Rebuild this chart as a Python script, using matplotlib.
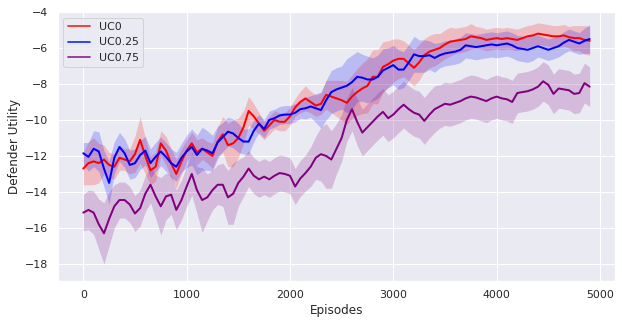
import numpy as np
import matplotlib
matplotlib.use("Agg")
import matplotlib.pyplot as plt
import seaborn as sns

episodes = np.arange(0, 4901, 50)

uc0_mean = [
    -12.7, -12.4, -12.3, -12.4, -12.2, -12.5, -12.6, -12.1, -12.2, -12.3,
    -11.9, -11.1, -12.0, -12.8, -12.6, -11.3, -11.7, -12.4, -13.0, -12.3,
    -11.7, -11.3, -11.8, -11.6, -11.8, -12.0, -11.2, -10.8, -11.4, -11.3,
    -11.0, -10.4, -9.5, -9.8, -10.2, -10.6, -10.3, -10.0, -10.1, -10.1,
    -9.8, -9.3, -9.0, -8.8, -9.0, -9.2, -9.1, -8.6, -8.7, -8.8,
    -8.9, -9.05, -8.7, -8.45, -8.25, -8.1, -7.6, -7.6, -7.05, -6.9,
    -6.7, -6.6, -6.6, -6.85, -7.1, -6.8, -6.4, -6.2, -6.1, -6.0,
    -5.8, -5.65, -5.6, -5.55, -5.5, -5.35, -5.4, -5.45, -5.55, -5.5,
    -5.45, -5.5, -5.45, -5.5, -5.55, -5.45, -5.35, -5.3, -5.2, -5.25,
    -5.3, -5.35, -5.35, -5.3, -5.4, -5.45, -5.45, -5.55, -5.6,
]
uc025_mean = [
    -11.85, -12.05, -11.6, -11.75, -12.7, -13.5, -12.1, -11.5, -11.85, -12.5,
    -12.4, -11.95, -11.7, -12.4, -12.05, -11.75, -12.05, -12.4, -12.6, -12.1,
    -11.75, -11.5, -11.95, -11.6, -11.7, -11.85, -11.25, -10.95, -10.65, -10.75,
    -11.0, -11.2, -11.2, -10.6, -10.2, -10.5, -10.0, -9.9, -9.75, -9.7,
    -9.7, -9.6, -9.4, -9.35, -9.25, -9.35, -9.45, -8.9, -8.45, -8.3,
    -8.2, -8.1, -7.9, -7.6, -7.65, -7.75, -7.75, -7.6, -7.25, -7.1,
    -6.95, -7.2, -7.2, -6.8, -6.35, -6.45, -6.45, -6.4, -6.55, -6.4,
    -6.3, -6.25, -6.2, -6.1, -5.85, -5.9, -5.95, -5.9, -5.85, -5.8,
    -5.85, -5.8, -5.75, -5.85, -6.0, -6.05, -6.1, -6.0, -5.9, -6.0,
    -6.1, -6.0, -5.9, -5.7, -5.55, -5.65, -5.75, -5.6, -5.5,
]
uc075_mean = [
    -15.15, -15.0, -15.15, -15.8, -16.3, -15.5, -14.8, -14.45, -14.45, -14.7,
    -15.2, -14.9, -14.1, -13.6, -14.25, -14.8, -14.25, -14.15, -15.0, -14.45,
    -13.7, -13.0, -13.9, -14.45, -14.3, -13.9, -13.6, -13.6, -14.3, -14.1,
    -13.5, -13.15, -12.7, -13.1, -13.3, -13.15, -13.3, -13.1, -12.95, -13.0,
    -13.1, -13.7, -13.25, -12.95, -12.6, -12.1, -11.9, -12.0, -12.2, -11.6,
    -11.0, -10.0, -9.4, -10.1, -10.7, -10.4, -10.1, -9.8, -9.55, -9.9,
    -9.7, -9.4, -9.15, -9.4, -9.6, -9.7, -10.05, -9.7, -9.4, -9.25,
    -9.1, -9.15, -9.05, -8.95, -8.8, -8.7, -8.75, -8.85, -8.95, -8.8,
    -8.7, -8.8, -8.85, -9.0, -8.5, -8.45, -8.4, -8.3, -8.15, -7.85,
    -8.05, -8.55, -8.25, -8.3, -8.35, -8.55, -8.5, -7.95, -8.15,
]

uc0_spread = [
    0.9, 1.2, 1.3, 1.1,
    0.8, 0.7, 0.7, 0.7, 0.6, 0.7,
    1.0, 1.3, 1.0, 0.8,
    0.8, 0.7, 0.8, 0.8, 0.8, 0.7,
    0.6, 0.6, 0.7, 0.6, 0.6, 0.7,
    0.8, 1.0, 1.2, 1.3, 1.1, 0.9,
    0.8, 0.7, 0.6, 0.5, 0.5, 0.5, 0.5, 0.5,
    0.5, 0.5, 0.6, 0.7, 0.6, 0.6,
    0.6, 0.8, 0.9, 1.0, 1.1, 1.2,
    1.2, 1.3, 1.4, 1.5, 1.5, 1.5,
    1.4, 1.3, 1.2, 1.1, 1.0, 1.0,
    1.0, 1.0, 0.9, 0.9, 0.9, 0.8,
    0.8, 0.8, 0.7, 0.7, 0.7, 0.7,
    0.6, 0.6, 0.6, 0.6, 0.6, 0.6,
    0.6, 0.6, 0.6, 0.6, 0.6, 0.6,
    0.6, 0.6, 0.6, 0.6, 0.6, 0.6,
    0.6, 0.7, 0.7, 0.8, 0.8,
]
uc025_spread = [
    0.6, 0.8, 1.0, 1.1,
    1.0, 1.2, 0.9, 0.8, 0.8, 0.8,
    0.8, 0.8, 0.8, 0.8,
    0.8, 0.8, 0.8, 0.8, 0.8, 0.8,
    0.9, 1.0, 1.1, 1.2, 1.1, 1.0,
    0.9, 0.8, 0.8, 0.8, 0.8, 0.7,
    0.7, 0.6, 0.5, 0.5, 0.5, 0.5, 0.5, 0.5,
    0.5, 0.5, 0.5, 0.6, 0.6, 0.8,
    1.0, 1.1, 1.2, 1.2, 1.2, 1.5,
    1.5, 1.4, 1.3, 1.3, 1.2, 1.2,
    1.2, 1.1, 1.1, 1.1, 1.0, 1.0,
    1.0, 0.9, 0.9, 0.8, 0.8, 0.7,
    0.7, 0.7, 0.7, 0.7, 0.7, 0.7,
    0.7, 0.7, 0.7, 0.7, 0.7, 0.7,
    0.7, 0.7, 0.7, 0.7, 0.7, 0.7,
    0.6, 0.6, 0.6, 0.6, 0.6, 0.6,
    0.6, 0.6, 0.6, 0.7, 0.8,
]
uc075_spread = [
    1.0, 1.1, 1.2, 1.4,
    1.7, 1.5, 1.2, 1.0, 1.0, 1.0,
    1.0, 1.0, 1.0, 1.0,
    1.2, 1.6, 1.3, 1.1, 1.1, 1.1,
    1.1, 1.2, 1.3, 1.8, 1.3, 1.1,
    1.1, 1.2, 1.5, 1.7, 1.3, 1.1,
    1.0, 1.0, 1.0, 1.0, 1.0, 1.0, 1.0, 1.0,
    1.0, 1.0, 1.0, 1.0, 1.1, 1.2,
    1.5, 1.8, 1.6, 1.4, 1.3, 1.2,
    1.2, 1.3, 1.3, 1.3, 1.3, 1.3,
    1.3, 1.3, 1.3, 1.3, 1.3, 1.3,
    1.3, 1.3, 1.3, 1.3, 1.3, 1.2,
    1.2, 1.2, 1.2, 1.2, 1.2, 1.2,
    1.2, 1.2, 1.2, 1.2, 1.2, 1.2,
    1.2, 1.2, 1.1, 1.1, 1.1, 1.1,
    1.1, 1.1, 1.1, 1.1, 1.1, 1.1,
    1.1, 1.1, 1.1, 1.1, 1.1,
]

labels = ["UC0", "UC0.25", "UC0.75"]
colors = ["red", "blue", "purple"]

sns.set_theme(style="darkgrid")
plt.rcParams["font.family"] = ["DejaVu Sans"]

fig = plt.figure(figsize=(622 / 72, 325 / 72), dpi=72)
ax = fig.add_axes([0.0932, 0.1354, 0.8955, 0.8276])

means = [uc0_mean, uc025_mean, uc075_mean]
spreads = [uc0_spread, uc025_spread, uc075_spread]
for m, s, lab, c in zip(means, spreads, labels, colors):
    m = np.asarray(m)
    s = np.asarray(s)
    ax.fill_between(episodes, m - s, m + s, color=c, alpha=0.2, linewidth=0)
    ax.plot(episodes, m, color=c, linewidth=2.0, label=lab)

ax.set_xlim(-245, 5145)
ax.set_ylim(-18.95, -4.0)
ax.set_xticks([0, 1000, 2000, 3000, 4000, 5000])
ax.set_yticks([-18, -16, -14, -12, -10, -8, -6, -4])
ax.set_xlabel("Episodes", fontsize=12)
ax.set_ylabel("Defender Utility", fontsize=12)
ax.tick_params(labelsize=11)
leg = ax.legend(loc="upper left", fontsize=11)
for ln in leg.get_lines():
    ln.set_alpha(0.8)
    ln.set_linewidth(1.8)

fig.savefig("out.png", dpi=72)
